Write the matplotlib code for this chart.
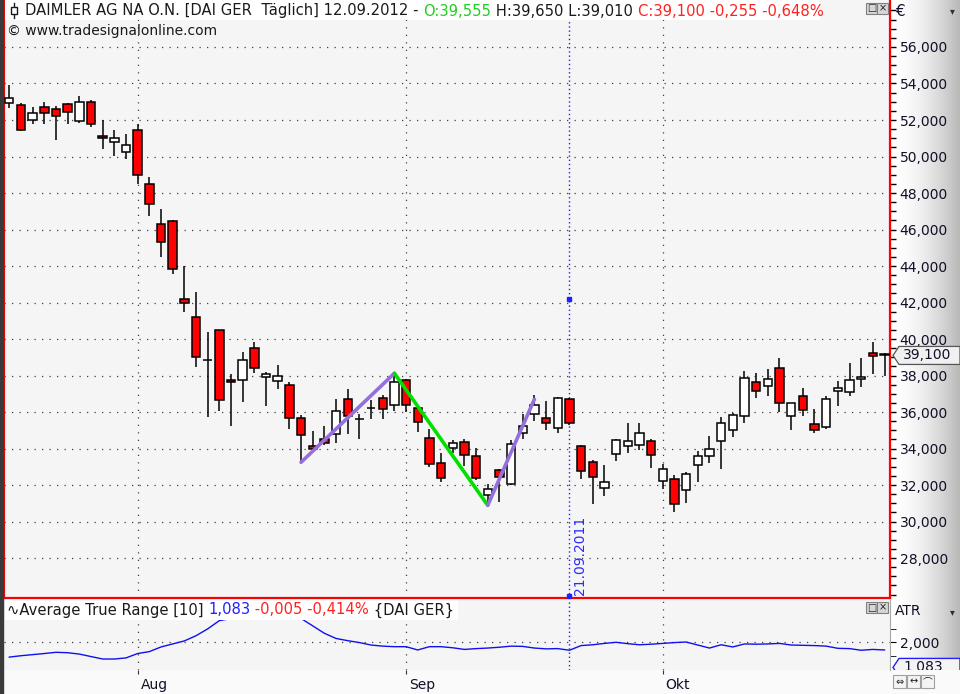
#!/usr/bin/env python3
"""Daimler daily candles (Jul-Oct 2011) with a zigzag and ATR(10) pane."""

import numpy as np
import pandas as pd
import matplotlib
matplotlib.use("Agg")
import matplotlib.pyplot as plt
from matplotlib.patches import Rectangle, Polygon
from matplotlib.lines import Line2D
from matplotlib.ticker import FixedLocator, FuncFormatter
from matplotlib.transforms import ScaledTranslation, Bbox

W, H = 960, 694

# ---- data (EUR) ----
dates = pd.bdate_range("2011-07-15", "2011-10-28")

opens = [52.92, 52.82, 51.98, 52.70, 52.59, 52.86, 51.93, 52.97, 51.11, 50.78,
         50.23, 51.44, 48.48, 46.29, 46.45, 42.18, 41.19, 38.83, 40.48, 37.74,
         37.74, 39.49, 37.90, 37.68, 37.46, 35.66, 34.12, 34.51, 34.78, 36.70,
         35.60, 36.20, 36.75, 36.37, 37.74, 36.20, 34.56, 33.19, 34.01, 34.34,
         33.58, 31.44, 32.81, 32.04, 34.83, 35.88, 35.66, 35.11, 36.70, 34.12,
         33.25, 31.82, 33.68, 34.12, 34.18, 34.40, 32.21, 32.31, 31.71, 33.08,
         33.57, 34.40, 35.00, 35.77, 37.63, 37.41, 38.40, 35.77, 36.86, 35.33,
         35.16, 37.14, 37.08, 37.79, 39.22, 39.20]
highs = [53.92, 52.92, 52.70, 52.99, 52.77, 52.92, 53.32, 53.08, 51.98, 51.44,
         51.23, 51.78, 48.88, 47.12, 46.50, 44.00, 42.58, 40.37, 40.52, 38.08,
         39.27, 39.82, 38.18, 38.56, 37.63, 35.82, 34.96, 35.23, 36.70, 37.25,
         35.88, 36.64, 36.92, 38.12, 37.79, 36.30, 35.05, 33.74, 34.45, 34.51,
         34.01, 32.04, 32.90, 34.45, 35.88, 36.92, 36.59, 36.80, 36.75, 34.18,
         33.36, 33.08, 34.50, 35.38, 35.38, 34.51, 33.14, 32.53, 32.70, 33.85,
         34.67, 35.71, 35.93, 38.23, 38.12, 38.34, 38.94, 36.52, 37.30, 36.15,
         36.86, 37.68, 38.67, 38.94, 39.82, 39.25]
lows = [52.64, 51.40, 51.80, 51.80, 50.92, 51.80, 51.82, 51.63, 50.43, 50.04,
        49.88, 48.49, 46.76, 44.51, 43.58, 41.50, 38.48, 35.74, 36.07, 35.25,
        36.57, 38.12, 36.35, 37.25, 35.09, 33.25, 33.90, 34.20, 34.29, 34.78,
        34.54, 35.63, 35.60, 36.04, 35.99, 34.89, 32.97, 32.15, 33.76, 33.03,
        32.30, 30.89, 31.05, 31.99, 34.51, 35.49, 35.00, 34.83, 35.30, 32.35,
        30.98, 31.42, 33.33, 33.74, 33.90, 32.92, 31.77, 30.51, 31.00, 32.18,
        33.19, 32.86, 34.62, 35.38, 36.75, 36.86, 35.99, 35.00, 35.77, 34.83,
        35.05, 36.31, 36.86, 37.36, 38.07, 37.96]
closes = [53.19, 51.44, 52.37, 52.37, 52.20, 52.42, 52.97, 51.77, 51.00, 51.00,
          50.61, 48.97, 47.38, 45.30, 43.82, 41.96, 39.00, 38.83, 36.64, 37.63,
          38.83, 38.40, 38.07, 37.96, 35.66, 34.73, 33.96, 34.29, 36.04, 35.77,
          35.60, 36.20, 36.15, 37.63, 36.37, 35.44, 33.14, 32.37, 34.29, 33.63,
          32.37, 31.77, 32.42, 34.23, 35.22, 36.37, 35.38, 36.75, 35.38, 32.75,
          32.42, 32.15, 34.45, 34.40, 34.83, 33.63, 32.86, 30.94, 32.59, 33.57,
          33.96, 35.38, 35.82, 37.85, 37.14, 37.79, 36.48, 36.48, 36.10, 35.00,
          36.70, 37.30, 37.74, 37.90, 39.05, 39.10]

atr = [1.46, 1.51, 1.55, 1.59, 1.635, 1.62, 1.57, 1.48, 1.39, 1.39,
       1.43, 1.59, 1.66, 1.83, 1.94, 2.05, 2.24, 2.49, 2.79, 2.87,
       2.88, 2.88, 2.88, 2.88, 2.88, 2.87, 2.60, 2.33, 2.14, 2.06,
       1.99, 1.90, 1.86, 1.84, 1.84, 1.72, 1.84, 1.84, 1.80, 1.74,
       1.77, 1.79, 1.82, 1.86, 1.85, 1.79, 1.76, 1.77, 1.71, 1.88,
       1.91, 1.96, 2.00, 1.95, 1.91, 1.93, 1.96, 1.99, 2.01, 1.90,
       1.79, 1.91, 1.83, 1.94, 1.93, 1.94, 1.96, 1.90, 1.89, 1.88,
       1.86, 1.78, 1.77, 1.71, 1.74, 1.72]

# zigzag pivots (candle index, price) and segment colours
zigzag_idx = [25, 33, 41, 45]
zigzag_px = [33.245, 38.122, 30.889, 36.700]
zigzag_colors = ["#9370db", "#00e000", "#9370db"]

marker_day = "2011-09-21"
marker_price = 42.19
last_close = 39.100
atr_last = 1.083

header_parts = [("DAIMLER AG NA O.N. [DAI GER  T\u00e4glich] 12.09.2012 - ", "#1a1a1a"),
                ("O:39,555", "#22cc22"),
                (" H:39,650 L:39,010 ", "#1a1a1a"),
                ("C:39,100 -0,255 -0,648%", "#ff2020")]
atr_parts = [("\u223fAverage True Range [10] ", "#1a1a1a"),
             ("1,083", "#2020ff"),
             (" -0,005 -0,414%", "#ff2020"),
             (" {DAI GER}", "#1a1a1a")]
month_names = {8: "Aug", 9: "Sep", 10: "Okt"}

SYMBOL_FONTS = ["DejaVu Sans", "Noto Sans CJK JP", "Noto Sans CJK SC"]


# ---- helpers ----
def frac(x0, y0, x1, y1):
    """pixel box (top-left origin) -> figure fraction rect"""
    return [x0 / W, 1 - y1 / H, (x1 - x0) / W, (y1 - y0) / H]


def fx(x):
    return x / W


def fy(y):
    return 1 - y / H


def de_fmt(v):
    return f"{v:.3f}".replace(".", ",")


def text_run(x, y, parts, size=10, zorder=7):
    r = fig.canvas.get_renderer()
    done = ""
    bar = fig.text(0, 0, "|", fontsize=size)
    wbar = bar.get_window_extent(r).width
    bar.remove()
    for s, c in parts:
        probe = fig.text(0, 0, done + "|", fontsize=size)
        off = probe.get_window_extent(r).width - wbar
        probe.remove()
        fig.text(fx(x + off), fy(y), s, color=c, fontsize=size,
                 va="center", ha="left", zorder=zorder)
        done += s


plt.rcParams["font.family"] = ["DejaVu Sans"]

fig = plt.figure(figsize=(9.6, 6.94), dpi=100)
fig.patch.set_facecolor("#fafafa")

# right-hand gradient for the scale area
bg = fig.add_axes(frac(890, 0, 960, 670))
t = np.linspace(0, 1, 200)
grad = 1 - 0.28 * t ** 1.8
bg.imshow(np.tile(grad, (2, 1)), aspect="auto", cmap="gray", vmin=0, vmax=1,
          extent=[0, 1, 0, 1])
bg.set_axis_off()
bg.set_zorder(0)

x = np.arange(len(dates))
xlim = (-0.454, 75.47)
month_idx = [i for i in range(1, len(dates)) if dates[i].month != dates[i - 1].month]

# ---- price pane ----
ax = fig.add_axes(frac(4, 0, 890, 598))
ax.set_zorder(1)
ax.set_facecolor("#f5f5f5")
ax.set_xlim(*xlim)
ax.set_ylim(25.81, 58.575)

o = np.array(opens)
c = np.array(closes)
body_colors = ["#ff0000" if cc < oo else "#ffffff" for oo, cc in zip(o, c)]
ax.vlines(x, lows, highs, color="black", lw=1.1, zorder=3)
ax.bar(x, np.abs(c - o), bottom=np.minimum(o, c), width=0.72,
       color=body_colors, edgecolor="black", linewidth=1.1, zorder=4)

for k in range(len(zigzag_idx) - 1):
    ax.plot(zigzag_idx[k:k + 2], zigzag_px[k:k + 2], color=zigzag_colors[k],
            lw=2.6, solid_capstyle="round", zorder=5)

mi = list(dates).index(pd.Timestamp(marker_day))
ax.axvline(mi, color="#2020ff", ls=(0, (1, 2)), lw=1, zorder=2)
ax.plot(mi, marker_price, "s", ms=3.2, color="#2020ff", zorder=6)
ax.plot(mi, 0.004, "s", ms=3.2, color="#2020ff", zorder=6,
        transform=ax.get_xaxis_transform(), clip_on=False)
ax.text(mi + 0.9, 25.97, pd.Timestamp(marker_day).strftime("%d.%m.%Y"),
        rotation=90, va="bottom", ha="center", color="#2a2aff", fontsize=10, zorder=6)

ax.yaxis.tick_right()
ax.yaxis.set_major_locator(FixedLocator(np.arange(28, 57, 2)))
ax.yaxis.set_minor_locator(FixedLocator(np.arange(26, 58.5, 0.5)))
ax.yaxis.set_major_formatter(FuncFormatter(lambda v, p: de_fmt(v)))
ax.tick_params(axis="y", which="both", direction="out", length=4, width=1,
               pad=3, labelsize=10, labelcolor="#101028", color="black")
ax.set_xticks(month_idx)
ax.tick_params(axis="x", length=0, labelbottom=False)
ax.grid(True, which="major", ls=(0, (1, 5)), color="#404040", lw=0.9)
ax.spines["top"].set_visible(False)
for side in ("left", "right", "bottom"):
    ax.spines[side].set_color("#ff0000")
    ax.spines[side].set_linewidth(1.6)

# ---- ATR pane ----
ax2 = fig.add_axes(frac(4, 600, 890, 670))
ax2.set_zorder(1)
ax2.set_facecolor("#f5f5f5")
ax2.set_xlim(*xlim)
ax2.set_ylim(0.989, 3.544)
ax2.plot(x, atr, color="#1010ee", lw=1, zorder=3)
ax2.axvline(mi, color="#2020ff", ls=(0, (1, 2)), lw=1, zorder=2)

ax2.yaxis.tick_right()
ax2.yaxis.set_major_locator(FixedLocator([2.0]))
ax2.yaxis.set_minor_locator(FixedLocator([1.5, 2.5]))
ax2.yaxis.set_major_formatter(FuncFormatter(lambda v, p: de_fmt(v)))
ax2.tick_params(axis="y", which="both", direction="out", length=4, pad=3,
                labelsize=10, labelcolor="#101028")
ax2.set_xticks(month_idx, [month_names[dates[i].month] for i in month_idx])
ax2.tick_params(axis="x", direction="out", length=3, pad=3, labelsize=10,
                labelcolor="#101028", color="#303030")
shift = ScaledTranslation(2 / 72, 0, fig.dpi_scale_trans)
for lbl in ax2.get_xticklabels():
    lbl.set_horizontalalignment("left")
    lbl.set_transform(lbl.get_transform() + shift)
ax2.grid(True, ls=(0, (1, 5)), color="#404040", lw=0.9)
for side in ("top", "left", "bottom"):
    ax2.spines[side].set_visible(False)
ax2.spines["right"].set_color("#a8a8a8")

# ---- figure decorations ----
fig.patches.append(Rectangle((0, 0), fx(3), 1, transform=fig.transFigure,
                             color="#3a3a3a", zorder=5))
# header box + candle glyph
fig.patches.append(Rectangle((fx(5), fy(20)), fx(815), 20 / H, transform=fig.transFigure,
                             facecolor="white", edgecolor="none", zorder=6))
fig.lines.append(Line2D([fx(14), fx(14)], [fy(3), fy(18)], transform=fig.transFigure,
                        color="#1a1a1a", lw=1, zorder=7))
fig.patches.append(Rectangle((fx(11), fy(14)), fx(6), 7 / H, transform=fig.transFigure,
                             facecolor="white", edgecolor="#1a1a1a", lw=1, zorder=8))
text_run(25, 11, header_parts, size=10.6)
fig.text(fx(7), fy(31), "\u00a9 www.tradesignalonline.com", fontsize=10,
         color="#1a1a1a", va="center", zorder=7)

fig.patches.append(Rectangle((fx(5), fy(620)), fx(453), 20 / H, transform=fig.transFigure,
                             facecolor="white", edgecolor="none", zorder=6))
text_run(7, 610, atr_parts, size=10.6)

# pane buttons
for top in (3, 602):
    for bx, sym in ((866, "\u25a1"), (877, "\u00d7")):
        fig.patches.append(Rectangle((fx(bx), fy(top + 11)), fx(11), 11 / H,
                                     transform=fig.transFigure, facecolor="#d6d6d6",
                                     edgecolor="#808080", lw=0.8, zorder=7))
        fig.text(fx(bx + 5.5), fy(top + 5.5), sym, fontsize=7, ha="center",
                 va="center", color="#202020", zorder=8)

# scale captions
fig.text(fx(895), fy(12), "\u20ac", fontsize=11, va="center", color="#101028", zorder=7)
fig.text(fx(895), fy(611), "ATR", fontsize=10, va="center", color="#101028", zorder=7)
for yy in (11, 612):
    fig.text(fx(950), fy(yy), "\u25be", fontsize=7, va="center", color="#303030", zorder=7)

# last-price tag
yt = H - ax.transData.transform((0, last_close))[1]
tag = Polygon([(fx(893), fy(yt)), (fx(899), fy(yt - 9)), (fx(960), fy(yt - 9)),
               (fx(960), fy(yt + 9)), (fx(899), fy(yt + 9))], closed=True,
              transform=fig.transFigure, facecolor="#f0f0f0", edgecolor="#555555",
              lw=0.9, zorder=7)
fig.patches.append(tag)
fig.text(fx(903), fy(yt), de_fmt(last_close), fontsize=10, va="center",
         color="#101028", zorder=8)

# ATR value tag (clipped by the time axis strip)
clip = Bbox.from_extents(880, H - 670, 960, H - 590)
ya = H - ax2.transData.transform((0, atr_last))[1]
atag = Polygon([(fx(893), fy(ya)), (fx(899), fy(ya - 9)), (fx(960), fy(ya - 9)),
                (fx(960), fy(ya + 9)), (fx(899), fy(ya + 9))], closed=True,
               transform=fig.transFigure, facecolor="#f4f4f4", edgecolor="#2020ff",
               lw=1, zorder=7)
atag.set_clip_box(clip)
atag.set_clip_on(True)
fig.patches.append(atag)
at = fig.text(fx(903), fy(ya), de_fmt(atr_last), fontsize=10, va="center",
              color="#101028", zorder=8)
at.set_clip_box(clip)
at.set_clip_on(True)

# little toolbar buttons at the bottom right
for bx, sym in ((893, "\u21d4"), (907, "\u2194"), (921, "\u2312")):
    fig.patches.append(Rectangle((fx(bx), fy(688)), fx(13), 13 / H,
                                 transform=fig.transFigure, facecolor="#f4f4f4",
                                 edgecolor="#a0a0a0", lw=0.8, zorder=7))
    fig.text(fx(bx + 6.5), fy(681.5), sym, fontsize=7, ha="center", va="center",
             color="#202020", zorder=8, family=SYMBOL_FONTS)

fig.savefig("out.png", dpi=100, facecolor=fig.get_facecolor())
